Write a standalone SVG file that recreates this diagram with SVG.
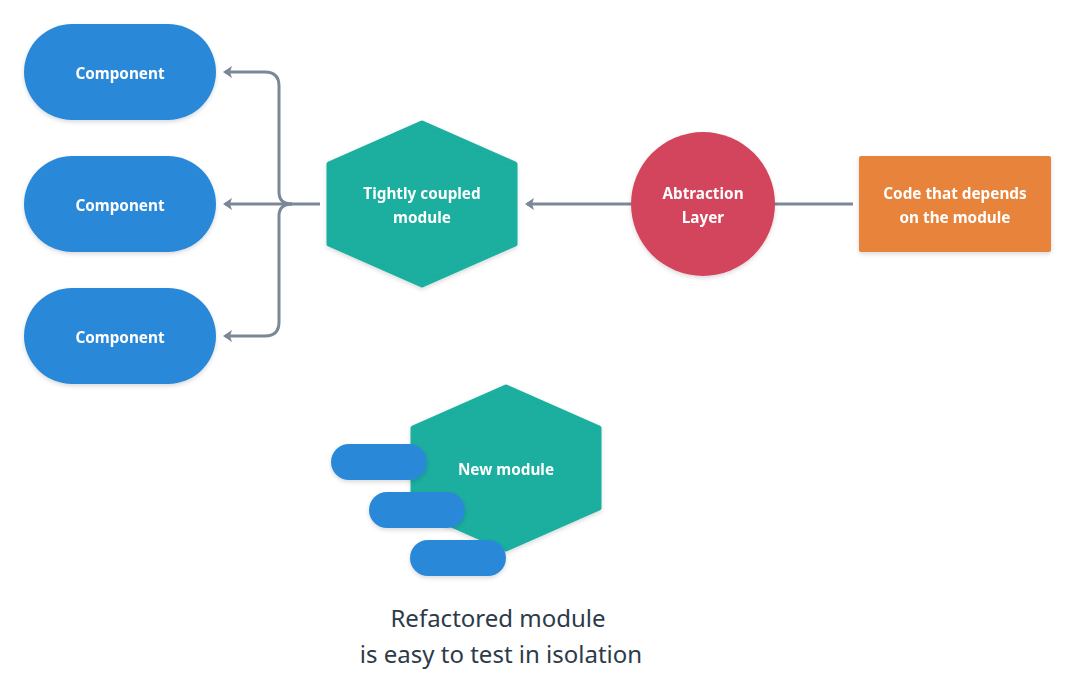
<svg xmlns="http://www.w3.org/2000/svg" width="1075" height="696" viewBox="0 0 1075 696">
<defs>
<style>
.lbl{font-family:"Noto Sans","Open Sans","Liberation Sans",sans-serif;font-weight:700;font-size:15.3px;fill:#ffffff;text-anchor:middle}
.cap{font-family:"Noto Sans","Open Sans","Liberation Sans",sans-serif;font-weight:400;font-size:24px;fill:#2d3a48;text-anchor:middle}
.blue{fill:#2c88d9}
.teal{fill:#1aae9f;stroke:#1aae9f;stroke-width:5;stroke-linejoin:round}
.con{fill:none;stroke:#7b8896;stroke-width:3}
</style>
<filter id="sh" x="-20%" y="-20%" width="140%" height="150%">
<feDropShadow dx="0" dy="2" stdDeviation="2" flood-color="#000" flood-opacity="0.15"/>
</filter>
<marker id="ah" viewBox="0 0 10 12" refX="8" refY="6" markerWidth="10" markerHeight="12" markerUnits="userSpaceOnUse" orient="auto">
<path d="M10 6 L1 0 L3 6 L1 12 Z" fill="#7b8896"/>
</marker>
</defs>
<rect width="1075" height="696" fill="#ffffff"/>
<g id="connectors">
<path class="con" d="M320 204 L225 204" marker-end="url(#ah)"/>
<path class="con" d="M292 204 Q279 204 279 192 L279 86 Q279 72 265 72 L225 72" marker-end="url(#ah)"/>
<path class="con" d="M292 204 Q279 204 279 216 L279 322 Q279 336 265 336 L225 336" marker-end="url(#ah)"/>
<path class="con" d="M631 204 L527 204" marker-end="url(#ah)"/>
<path class="con" d="M775 204 L853 204"/>
</g>
<g id="component1" filter="url(#sh)">
<rect class="blue" x="24" y="24" width="192" height="96" rx="48"/>
<text class="lbl" x="120" y="79">Component</text>
</g>
<g id="component2" filter="url(#sh)">
<rect class="blue" x="24" y="156" width="192" height="96" rx="48"/>
<text class="lbl" x="120" y="211">Component</text>
</g>
<g id="component3" filter="url(#sh)">
<rect class="blue" x="24" y="288" width="192" height="96" rx="48"/>
<text class="lbl" x="120" y="343">Component</text>
</g>
<g id="tightly-coupled" filter="url(#sh)">
<polygon class="teal" points="422,123 515,164 515,244 422,285 329,244 329,164"/>
<text class="lbl" x="422" y="199">Tightly coupled</text>
<text class="lbl" x="422" y="223">module</text>
</g>
<g id="abstraction" filter="url(#sh)">
<circle cx="703" cy="204" r="72" fill="#d3455b"/>
<text class="lbl" x="703" y="199">Abtraction</text>
<text class="lbl" x="703" y="223">Layer</text>
</g>
<g id="code" filter="url(#sh)">
<rect x="859" y="156" width="192" height="96" rx="2" fill="#e8833a"/>
<text class="lbl" x="955" y="199">Code that depends</text>
<text class="lbl" x="955" y="223">on the module</text>
</g>
<g id="new-module">
<g filter="url(#sh)">
<polygon class="teal" points="506,387 599,428 599,508 506,549 413,508 413,428"/>
<text class="lbl" x="506" y="475">New module</text>
</g>
<rect class="blue" x="331" y="444" width="96" height="36" rx="18" filter="url(#sh)"/>
<rect class="blue" x="369" y="492" width="96" height="36" rx="18" filter="url(#sh)"/>
<rect class="blue" x="410" y="540" width="96" height="36" rx="18" filter="url(#sh)"/>
</g>
<g id="caption">
<text class="cap" x="498" y="627">Refactored module</text>
<text class="cap" x="501" y="663">is easy to test in isolation</text>
</g>
</svg>
